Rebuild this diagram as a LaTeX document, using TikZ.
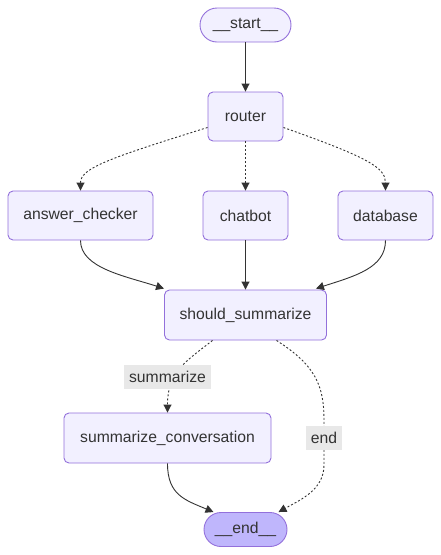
\documentclass[tikz,border=0pt]{standalone}
\usepackage{fontspec}
\setmainfont{Liberation Sans}
\usetikzlibrary{arrows.meta,calc}
\definecolor{nodefill}{HTML}{F2F0FF}
\definecolor{nodestroke}{HTML}{9370DB}
\definecolor{endfill}{HTML}{BFB6FC}
\definecolor{edgecol}{HTML}{333333}
\definecolor{lblfill}{HTML}{E8E8E8}
\tikzset{
  box/.style={draw=nodestroke, fill=nodefill, line width=0.9pt, rounded corners=5pt,
    text=edgecol, font=\fontsize{15.7}{18}\selectfont, inner sep=0pt, minimum height=49pt},
  pill/.style={box, rounded corners=17pt, minimum height=34pt},
  edge/.style={draw=edgecol, line width=0.9pt, -{Triangle[length=8pt,width=8pt]}},
  dedge/.style={edge, dash pattern=on 2pt off 2pt},
  lbl/.style={fill=lblfill, text=edgecol, font=\fontsize{15.7}{18}\selectfont, inner sep=0pt,
    minimum height=24pt}
}
\begin{document}
\begin{tikzpicture}[x=1pt,y=-1pt]
\useasboundingbox (0,0) rectangle (441,555);
\node[pill, minimum width=91pt] (start) at (245.5,25) {\_\_start\_\_};
\node[box, minimum width=75pt] (router) at (245.5,116.5) {router};
\node[box, minimum width=145pt] (ac) at (80.5,215.5) {answer\_checker};
\node[box, minimum width=85pt] (chat) at (245.5,215.5) {chatbot};
\node[box, minimum width=95pt] (db) at (385.5,215.5) {database};
\node[box, minimum width=162pt, minimum height=50pt] (ss) at (245.5,315) {should\_summarize};
\node[box, minimum width=207pt, minimum height=50pt] (sc) at (167.5,438) {summarize\_conversation};
\node[pill, minimum width=83pt, fill=endfill] (end) at (245.5,529.5) {\_\_end\_\_};

\draw[edge] (start) -- (router);
\draw[dedge] ($(router.west)+(0,11)$) .. controls (110,158) and (80.5,168) .. (ac.north);
\draw[dedge] (router) -- (chat);
\draw[dedge] ($(router.east)+(0,11)$) .. controls (370,158) and (385.5,168) .. (db.north);
\draw[edge] (ac.south) .. controls (80.5,268) and (125,276) .. ($(ss.north west)+(0,-1)$);
\draw[edge] (chat) -- (ss);
\draw[edge] (db.south) .. controls (385.5,268) and (355,276) .. ($(ss.north east)+(-11,-1)$);
\draw[dedge] ($(ss.south)+(-33,0)$) .. controls (185,362) and (167.5,372) .. (sc.north);
\draw[dedge] ($(ss.south)+(31,0)$) .. controls (315,365) and (324,385) .. (324,420) -- (324,465) .. controls (324,490) and (300,500) .. ($(end.north)+(33,0)$);
\draw[edge] (sc.south) .. controls (167.5,495) and (185,500) .. ($(end.north)+(-32,0)$);

\node[lbl, minimum width=87pt] (l1) at (167.5,377) {summarize};
\node[lbl, minimum width=36pt] (l2) at (324,438) {end};
\end{tikzpicture}
\end{document}
